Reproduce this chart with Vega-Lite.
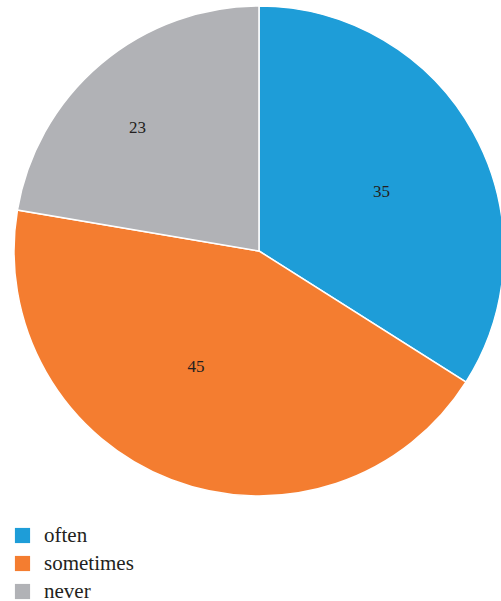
{
  "$schema": "https://vega.github.io/schema/vega-lite/v6.json",
  "width": 501,
  "height": 502,
  "autosize": {"type": "none"},
  "padding": {"left": 0, "top": 0, "right": 0, "bottom": 99},
  "background": "white",
  "config": {"font": "'Liberation Serif', 'DejaVu Serif', serif"},
  "data": {
    "values": [
      {"category": "often", "value": 35},
      {"category": "sometimes", "value": 45},
      {"category": "never", "value": 23}
    ]
  },
  "transform": [
    {"lookup": "category", "from": {"data": {"values": [{"category": "often", "order": 1}, {"category": "sometimes", "order": 2}, {"category": "never", "order": 3}]}, "key": "category", "fields": ["order"]}}
  ],
  "encoding": {
    "theta": {"field": "value", "type": "quantitative", "stack": true},
    "order": {"field": "order", "type": "quantitative"}
  },
  "layer": [
    {
      "mark": {"type": "arc", "radius": 245, "xOffset": 8.5, "stroke": "white", "strokeWidth": 1.5},
      "encoding": {
        "color": {
          "field": "category",
          "type": "nominal",
          "sort": ["often", "sometimes", "never"],
          "scale": {"domain": ["often", "sometimes", "never"], "range": ["#1e9dd8", "#f47d30", "#b1b2b6"]},
          "legend": {
            "title": null,
            "orient": "none",
            "legendX": 12,
            "legendY": 525,
            "symbolType": "square",
            "symbolSize": 230,
            "symbolStrokeWidth": 0,
            "labelFont": "'Liberation Serif', 'DejaVu Serif', serif",
            "labelFontSize": 21,
            "labelColor": "#231f20",
            "labelOffset": 11,
            "rowPadding": 6
          }
        }
      }
    },
    {
      "mark": {"type": "text", "radius": 138, "xOffset": 10, "yOffset": 8, "baseline": "middle", "font": "'Liberation Serif', 'DejaVu Serif', serif", "fontSize": 17, "color": "#231f20"},
      "encoding": {
        "text": {"field": "value", "type": "quantitative"},
        "opacity": {"condition": {"test": "datum.category == 'often'", "value": 1}, "value": 0}
      }
    },
    {
      "mark": {"type": "text", "radius": 133, "xOffset": -7, "yOffset": -8, "baseline": "middle", "font": "'Liberation Serif', 'DejaVu Serif', serif", "fontSize": 17, "color": "#231f20"},
      "encoding": {
        "text": {"field": "value", "type": "quantitative"},
        "opacity": {"condition": {"test": "datum.category == 'sometimes'", "value": 1}, "value": 0}
      }
    },
    {
      "mark": {"type": "text", "radius": 172, "xOffset": -2, "yOffset": 8, "baseline": "middle", "font": "'Liberation Serif', 'DejaVu Serif', serif", "fontSize": 17, "color": "#231f20"},
      "encoding": {
        "text": {"field": "value", "type": "quantitative"},
        "opacity": {"condition": {"test": "datum.category == 'never'", "value": 1}, "value": 0}
      }
    }
  ]
}
